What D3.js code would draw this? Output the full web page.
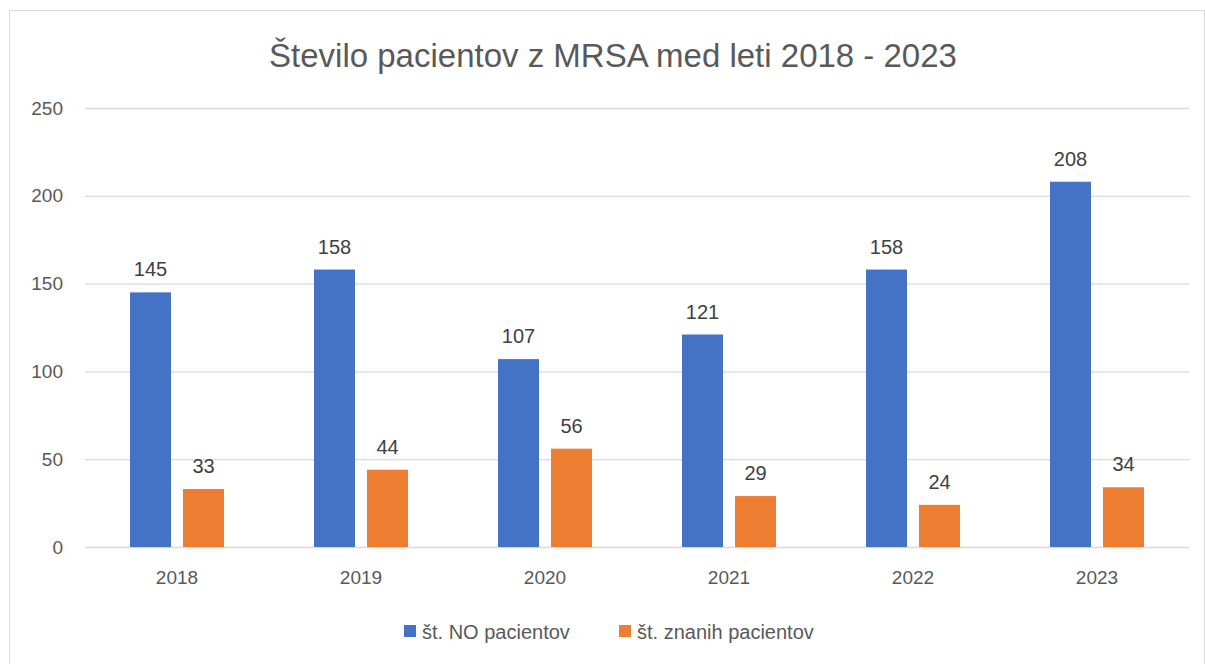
<!DOCTYPE html>
<html>
<head>
<meta charset="utf-8">
<script src="https://cdn.jsdelivr.net/npm/d3@7"></script>
<style>
  body { margin: 0; background: #fff; }
  text { font-family: "Liberation Sans", "DejaVu Sans", sans-serif; }
</style>
</head>
<body>
<svg width="1205" height="664"></svg>
<script>
const years = ["2018", "2019", "2020", "2021", "2022", "2023"];
const noPatients = [145, 158, 107, 121, 158, 208];
const knownPatients = [33, 44, 56, 29, 24, 34];
const seriesNames = ["št. NO pacientov", "št. znanih pacientov"];
const yTicks = [0, 50, 100, 150, 200, 250];

const colors = ["#4472C4", "#ED7D31"];
const svg = d3.select("svg");

// chart border
svg.append("rect")
  .attr("x", 9.5).attr("y", 10.5)
  .attr("width", 1195).attr("height", 660)
  .attr("fill", "#fff")
  .attr("stroke", "#d9d9d9");

const plot = { left: 85, right: 1189, top: 108, bottom: 547 };

const x = d3.scaleBand()
  .domain(years)
  .range([plot.left, plot.right]);

const y = d3.scaleLinear()
  .domain([0, 250])
  .range([plot.bottom, plot.top]);

// gridlines + y labels
const yAxis = d3.axisLeft(y)
  .tickValues(yTicks)
  .tickSize(-(plot.right - plot.left))
  .tickPadding(22);
const gy = svg.append("g")
  .attr("transform", `translate(${plot.left},0)`)
  .call(yAxis);
gy.select(".domain").remove();
gy.selectAll(".tick line").attr("stroke", "#d9d9d9").attr("stroke-width", 1.3);
gy.selectAll(".tick text")
  .attr("fill", "#595959")
  .style("font-size", "19px");

// x labels
const xAxis = d3.axisBottom(x).tickSize(0).tickPadding(24);
const gx = svg.append("g")
  .attr("transform", `translate(0,${plot.bottom})`)
  .call(xAxis);
gx.select(".domain").remove();
gx.selectAll(".tick text")
  .attr("fill", "#595959")
  .style("font-size", "19px");

// bars
const barW = 41, gap = 12;
const series = [noPatients, knownPatients];
series.forEach((vals, si) => {
  const offset = si === 0 ? -gap / 2 - barW : gap / 2;
  const g = svg.append("g");
  g.selectAll("rect")
    .data(vals)
    .join("rect")
    .attr("x", (d, i) => x(years[i]) + x.bandwidth() / 2 + offset)
    .attr("y", d => y(d))
    .attr("width", barW)
    .attr("height", d => y(0) - y(d))
    .attr("fill", colors[si]);
  g.selectAll("text")
    .data(vals)
    .join("text")
    .attr("x", (d, i) => x(years[i]) + x.bandwidth() / 2 + offset + barW / 2)
    .attr("y", d => y(d) - 16)
    .attr("text-anchor", "middle")
    .attr("fill", "#404040")
    .style("font-size", "20px")
    .text(d => d);
});

// title
svg.append("text")
  .attr("x", 613)
  .attr("y", 67)
  .attr("text-anchor", "middle")
  .attr("fill", "#595959")
  .style("font-size", "33px")
  .text("Število pacientov z MRSA med leti 2018 - 2023");

// legend
const legendItems = [
  { name: seriesNames[0], x: 404 },
  { name: seriesNames[1], x: 619 }
];
legendItems.forEach((item, i) => {
  svg.append("rect")
    .attr("x", item.x).attr("y", 625)
    .attr("width", 12).attr("height", 12)
    .attr("fill", colors[i]);
  svg.append("text")
    .attr("x", item.x + 18).attr("y", 639)
    .attr("fill", "#595959")
    .style("font-size", "20px")
    .text(item.name);
});
</script>
</body>
</html>
